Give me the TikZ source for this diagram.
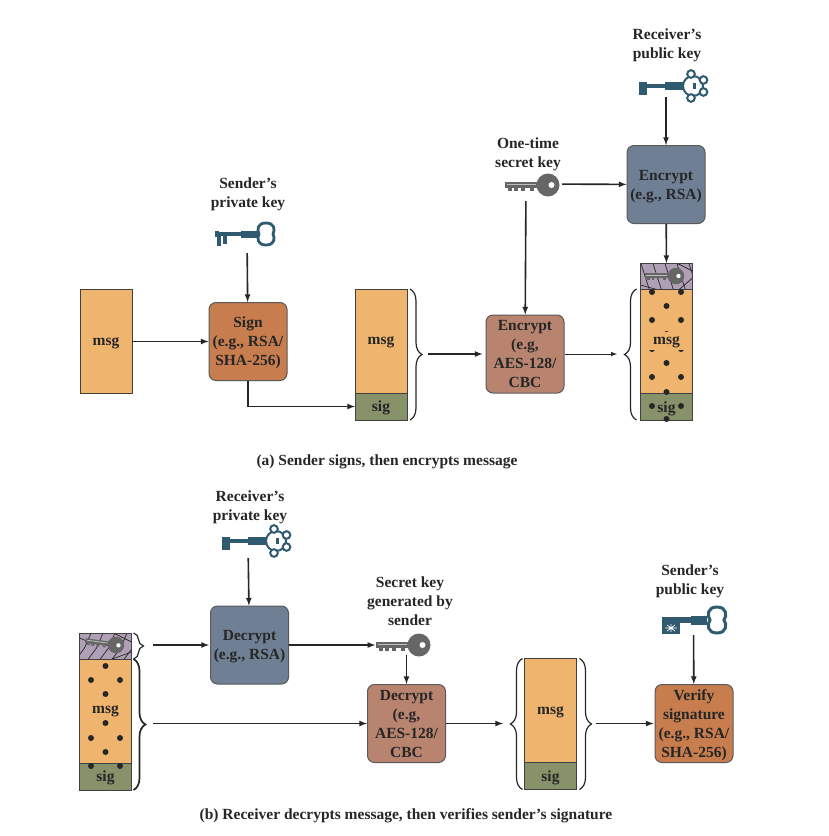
\documentclass[tikz,border=0pt]{standalone}
\usepackage{fontspec}
\setmainfont{Liberation Serif}
\usetikzlibrary{arrows}
\usetikzlibrary{calc}
\usetikzlibrary{decorations.pathreplacing}
\usetikzlibrary{positioning}
\definecolor{msgcol}{HTML}{EFB56F}
\definecolor{sigcol}{HTML}{87926A}
\definecolor{lockcol}{HTML}{AFA0B5}
\definecolor{rsacol}{HTML}{6F8095}
\definecolor{signcol}{HTML}{C87D4E}
\definecolor{aescol}{HTML}{B8846F}
\definecolor{keycol}{HTML}{2F5A70}
\definecolor{greykey}{HTML}{666666}
\begin{document}
\begin{tikzpicture}
[
	x = 1pt, y = -1pt,
	every node/.style = {font = \fontsize{15.5}{19}\selectfont\bfseries, text = black!85, inner sep = 0pt, align = center, text depth = 0pt},
	flow/.style = {-latex, line width = 1.6pt, black!85},
	curly/.style = {decorate, decoration = {brace, amplitude = 12pt}, line width = 1.2pt, black!85},
	field/.style = {draw = black!75, line width = 1pt, minimum width = 52pt, outer sep = 0pt},
	msgbox/.style = {field, fill = msgcol, minimum height = 104pt},
	sigbox/.style = {field, fill = sigcol, minimum height = 27pt},
	lockbox/.style = {field, fill = lockcol, minimum height = 26pt},
	msgtext/.style = {fill = msgcol, minimum width = 40pt, minimum height = 18pt},
	proc/.style = {draw = black!65, line width = 1pt, rounded corners = 7pt, minimum width = 78pt, minimum height = 78pt},
	rsa/.style = {proc, fill = rsacol},
	sign/.style = {proc, fill = signcol},
	aes/.style = {proc, fill = aescol},
	spot/.style = {minimum width = #1, minimum height = 0pt},
	keyplain/.pic = {
		\fill [keycol] (-51,-2.2) rectangle (-8,2.2);
		\fill [keycol] (-25,-3.5) rectangle (-9,3.5);
		\fill [keycol] (-51,-3) rectangle (-47,3);
		\fill [keycol] (-49,2) rectangle (-45.5,12);
		\fill [keycol] (-43,2) rectangle (-39.5,10);
		\draw [keycol, line width = 2.8pt] (0,-11) .. controls (9,-11) and (9,-4) .. (7,0) .. controls (9,4) and (9,11) .. (0,11) .. controls (-9,11) and (-9,4) .. (-7,0) .. controls (-9,-4) and (-9,-11) .. (0,-11);
	},
	keyornate/.pic = {
		\fill [keycol] (-54,-2.2) rectangle (-9,2.2);
		\fill [keycol] (-28,-4) rectangle (-9,4);
		\fill [keycol] (-54,-4) rectangle (-46,9);
		\draw [keycol, line width = 2pt] (0,0) circle (10pt);
		\foreach \a/\b in {-2/-12, -2/12, 10.5/-6, 10.5/6}
			\draw [keycol, line width = 2pt, fill = white] (\a,\b) circle (3.8pt);
		\fill [keycol] (0,-3) rectangle (3,3);
	},
	keyblock/.pic = {
		\fill [keycol] (-55,-3) rectangle (-10,3);
		\fill [keycol] (-26,-4.5) rectangle (-10,4.5);
		\fill [keycol] (-55,2) rectangle (-37,14);
		\draw [white, line width = 0.7pt] (-52,8) -- (-40,8) (-46,4) -- (-46,12) (-50,5) -- (-42,11) (-50,11) -- (-42,5);
		\draw [keycol, line width = 3pt] (0,-13) .. controls (10,-13) and (10,-4) .. (7,0) .. controls (10,4) and (10,13) .. (0,13) .. controls (-10,13) and (-10,4) .. (-7,0) .. controls (-10,-4) and (-10,-13) .. (0,-13);
	},
	keygrey/.pic = {
		\fill [greykey] (-43,-3.5) rectangle (-8,3);
		\draw [white!75!black, line width = 0.8pt] (-41,-1) -- (-12,-1);
		\foreach \a in {-40,-34,-27,-18}
			\fill [greykey] (\a,3) rectangle +(4,2.5);
		\fill [greykey] (0,0) circle (11.5pt);
		\fill [white] (3.5,0) circle (3pt);
	},
	hatchA/.pic = {
		\foreach \a in {-26,-14,-2,10,22,34}
			\draw [black!85, line width = 0.7pt] (\a,-14) -- (\a+9,14);
		\draw [black!85, line width = 0.7pt] (-26,9) -- (-8,14) (8,-14) -- (26,-5) (12,14) -- (26,2);
	},
	hatchB/.pic = {
		\foreach \a in {-30,-18,-6,6,18}
			\draw [black!85, line width = 0.7pt] (\a,14) -- (\a+9,2) -- (\a+16,-14);
		\draw [black!85, line width = 0.7pt] (-26,-8) -- (-14,-3) (6,-14) -- (26,-4) (4,14) -- (26,6);
	},
]
	\useasboundingbox (0,0) rectangle (829,836);

	% (a) sender side
	\node (msgA) [msgbox, minimum width = 52pt] at (106,341.5) {msg};
	\node (signA) [sign] at (248,341.5) {Sign\\(e.g., RSA/\\SHA-256)};
	\node (msgB) [msgbox] at (381,341) {msg};
	\node (sigB) [sigbox, below = 0pt of msgB] {sig};
	\node (aesA) [aes] at (525,354) {Encrypt\\(e.g,\\AES-128/\\CBC};
	\node (rsaA) [rsa] at (666,184.5) {Encrypt\\(e.g., RSA)};
	\node (msgC) [msgbox] at (666.5,341) {};
	\node (sigC) [sigbox, below = 0pt of msgC] {};
	\node (lockC) [lockbox, above = 0pt of msgC] {};
	%
	\begin{scope}
		\clip (lockC.south west) rectangle (lockC.north east);
		\pic at (lockC) {hatchA};
		\pic [scale = 0.72] at (676,276) {keygrey};
	\end{scope}
	\draw [field, fill = none] (lockC.south west) rectangle (lockC.north east);
	\foreach \a/\b in {652/292, 681/292, 666.5/306, 652/320, 681/320, 666.5/334, 652/349, 681/349, 666.5/363, 652/377, 681/377, 666.5/392, 652/406, 681/406, 666.5/419}
		\fill [black!85] (\a,\b) circle (3pt);
	\node [msgtext] at (666.5,341) {msg};
	\node at (666.5,407) {sig};

	% keys and their labels
	\node (kSend) [spot = 20pt, minimum height = 36pt] at (247,235) {};
	\pic at (266,234) {keyplain};
	\node (tSend) at (248,193) {Sender’s\\private key};
	\node (kRecv) [spot = 20pt, minimum height = 18pt] at (666,88) {};
	\pic at (693,86) {keyornate};
	\node (tRecv) at (667,44) {Receiver’s\\public key};
	\node (kOne) [spot = 72pt, minimum height = 34pt] at (526,184) {};
	\pic at (548,185) {keygrey};
	\node (tOne) at (528,153) {One-time\\secret key};

	% paths (a)
	\coordinate (tipB) at (424,354);
	\coordinate (tipC) at (620,354);
	\draw [curly] ([xshift = 3pt]msgB.north east) -- ([xshift = 3pt]sigB.south east);
	\draw [curly] ([xshift = -4pt]sigC.south west) -- ([xshift = -4pt]msgC.north west);
	\draw [flow] (msgA) -- (signA);
	\draw [flow] (kSend) -- (signA);
	\draw [flow] (signA.south) |- (sigB.west);
	\draw [flow, shorten < = 4pt, shorten > = 3pt] (tipB) -- (aesA);
	\draw [flow, line width = 1pt, shorten > = 3pt] (aesA) -- (tipC);
	\draw [flow] (kOne) -- (aesA);
	\draw [flow] (kOne) -- (rsaA);
	\draw [flow] (kRecv) -- (rsaA);
	\draw [flow] (rsaA) -- (lockC);
	\node (capA) at (387,460) {(a) Sender signs, then encrypts message};

	% (b) receiver side
	\node (msgD) [msgbox] at (105.5,711) {};
	\node (sigD) [sigbox, below = 0pt of msgD] {};
	\node (lockD) [lockbox, above = 0pt of msgD] {};
	\node (rsaB) [rsa] at (249.5,645) {Decrypt\\(e.g., RSA)};
	\node (aesB) [aes] at (406.5,723.5) {Decrypt\\(e.g,\\AES-128/\\CBC};
	\node (msgE) [msgbox] at (550.5,710.5) {msg};
	\node (sigE) [sigbox, below = 0pt of msgE] {sig};
	\node (signB) [sign] at (694,723.5) {Verify\\signature\\(e.g., RSA/\\SHA-256)};
	%
	\begin{scope}
		\clip (lockD.south west) rectangle (lockD.north east);
		\pic at (lockD) {hatchB};
		\pic [scale = 0.72, rotate = -8] at (116,645) {keygrey};
	\end{scope}
	\draw [field, fill = none] (lockD.south west) rectangle (lockD.north east);
	\foreach \a/\b in {105.5/666, 91/680, 120/680, 105.5/694, 105.5/723, 91/738, 120/738, 105.5/752, 91/766, 120/766}
		\fill [black!85] (\a,\b) circle (3pt);
	\node at (105.5,709.5) {msg};
	\node at (105.5,776) {sig};

	% keys and their labels
	\node (kPriv) [spot = 20pt, minimum height = 34pt] at (248,541) {};
	\pic at (276,541) {keyornate};
	\node (tPriv) at (250,506) {Receiver’s\\private key};
	\node (kSec) [spot = 62pt, minimum height = 20pt] at (406.5,645) {};
	\pic at (419,645) {keygrey};
	\node (tSec) at (410,601) {Secret key\\generated by\\sender};
	\node (kPub) [spot = 20pt, minimum height = 30pt] at (693.5,620) {};
	\pic at (717,620) {keyblock};
	\node (tPub) at (690,580) {Sender’s\\public key};

	% paths (b)
	\coordinate (tipL) at (146,645);
	\coordinate (tipD) at (146,723.5);
	\coordinate (tipE) at (509,723.5);
	\coordinate (tipF) at (593,723.5);
	\draw [curly, decoration = {amplitude = 10pt}] ([xshift = 2pt]lockD.north east) -- ([xshift = 2pt]lockD.south east);
	\draw [curly, line width = 1.7pt] ([xshift = 2pt]msgD.north east) -- ([xshift = 2pt]sigD.south east);
	\draw [curly] ([xshift = -2pt]sigE.south west) -- ([xshift = -2pt]msgE.north west);
	\draw [curly] ([xshift = 3pt]msgE.north east) -- ([xshift = 3pt]sigE.south east);
	\draw [flow, shorten < = 7pt, shorten > = 1pt] (tipL) -- (rsaB);
	\draw [flow, shorten < = 7pt] (tipD) -- (aesB);
	\draw [flow] (kPriv) -- (rsaB);
	\draw [flow] (rsaB) -- (kSec);
	\draw [flow] (kSec) -- (aesB);
	\draw [flow, shorten > = 6pt] (aesB) -- (tipE);
	\draw [flow, shorten < = 3pt, shorten > = 1pt] (tipF) -- (signB);
	\draw [flow] (kPub) -- (signB);
	\node (capB) at (406,814) {(b) Receiver decrypts message, then verifies sender’s signature};
\end{tikzpicture}
\end{document}
